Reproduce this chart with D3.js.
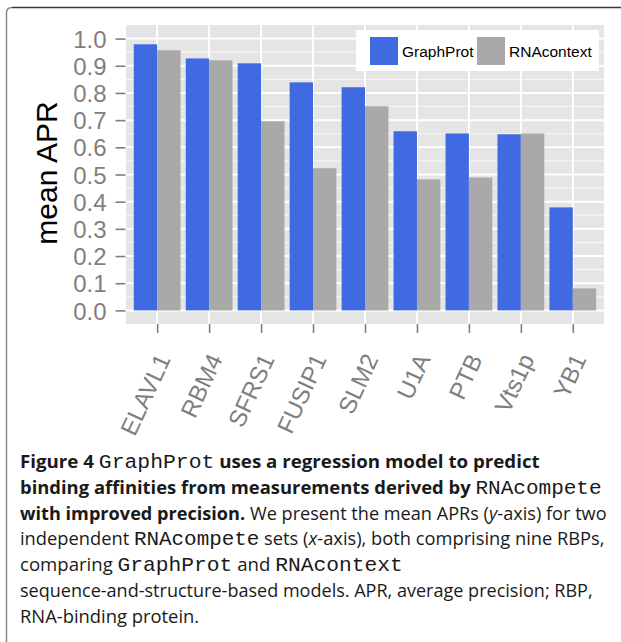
<!DOCTYPE html>
<html>
<head>
<meta charset="utf-8">
<script src="https://d3js.org/d3.v7.min.js"></script>
<style>
  body { margin: 0; background: #fff; }
  .tick-label { font-family: "Liberation Sans", Arial, sans-serif; fill: #7f7f7f; }
  .caption { font-family: "Open Sans", "Noto Sans", sans-serif; font-size: 17.5px; fill: #1a1a1a; }
  .mono { font-family: "Liberation Mono", "DejaVu Sans Mono", monospace; font-size: 20px; font-weight: normal; }
</style>
</head>
<body>
<script>
// data
var proteins = ["ELAVL1", "RBM4", "SFRS1", "FUSIP1", "SLM2", "U1A", "PTB", "Vts1p", "YB1"];
var graphProt = [0.979, 0.927, 0.909, 0.839, 0.821, 0.659, 0.651, 0.648, 0.379];
var rnaContext = [0.957, 0.920, 0.696, 0.523, 0.751, 0.482, 0.489, 0.651, 0.081];
var seriesNames = ["GraphProt", "RNAcontext"];
var seriesColors = ["#4169e1", "#a9a9a9"];
var yTicks = [0, 0.1, 0.2, 0.3, 0.4, 0.5, 0.6, 0.7, 0.8, 0.9, 1.0];
var yMinor = [0.05, 0.15, 0.25, 0.35, 0.45, 0.55, 0.65, 0.75, 0.85, 0.95];

var width = 621, height = 642;
var panel = {left: 126, right: 604, top: 25, bottom: 324};

var svg = d3.select("body").append("svg")
    .attr("width", width)
    .attr("height", height);

// figure frame (rounded top-left corner, runs off right / bottom)
svg.append("path")
    .attr("d", "M6.5,650 L6.5,13 Q6.5,7.5 12,7.5")
    .attr("fill", "none").attr("stroke", "#8a8a8a").attr("stroke-width", 1.5);
svg.append("path")
    .attr("d", "M12,7.5 L630,7.5")
    .attr("fill", "none").attr("stroke", "#3a3a3a").attr("stroke-width", 1.5);

var x = d3.scalePoint()
    .domain(proteins)
    .range([panel.left, panel.right])
    .padding(0.6);
var step = x.step();
var barW = step * 0.45;

var y = d3.scaleLinear()
    .domain([-0.05, 1.05])
    .range([panel.bottom, panel.top]);

// panel background
svg.append("rect")
    .attr("x", panel.left).attr("y", panel.top)
    .attr("width", panel.right - panel.left)
    .attr("height", panel.bottom - panel.top)
    .attr("fill", "#e5e5e5");

// minor + major grid
svg.selectAll("line.minor").data(yMinor).enter().append("line")
    .attr("x1", panel.left).attr("x2", panel.right)
    .attr("y1", function(d) { return y(d); }).attr("y2", function(d) { return y(d); })
    .attr("stroke", "#f8f8f8").attr("stroke-width", 1);
svg.selectAll("line.major").data(yTicks).enter().append("line")
    .attr("x1", panel.left).attr("x2", panel.right)
    .attr("y1", function(d) { return y(d); }).attr("y2", function(d) { return y(d); })
    .attr("stroke", "#fff").attr("stroke-width", 2);
svg.selectAll("line.vmajor").data(proteins).enter().append("line")
    .attr("x1", function(d) { return x(d); }).attr("x2", function(d) { return x(d); })
    .attr("y1", panel.top).attr("y2", panel.bottom)
    .attr("stroke", "#fff").attr("stroke-width", 2);

// bars
var groups = svg.selectAll("g.bar").data(proteins).enter().append("g");
groups.append("rect")
    .attr("x", function(d) { return x(d) - barW; })
    .attr("y", function(d, i) { return y(graphProt[i]); })
    .attr("width", barW)
    .attr("height", function(d, i) { return y(0) - y(graphProt[i]); })
    .attr("fill", seriesColors[0]);
groups.append("rect")
    .attr("x", function(d) { return x(d); })
    .attr("y", function(d, i) { return y(rnaContext[i]); })
    .attr("width", barW)
    .attr("height", function(d, i) { return y(0) - y(rnaContext[i]); })
    .attr("fill", seriesColors[1]);

// y axis
var yAxis = d3.axisLeft(y).tickValues(yTicks).tickFormat(d3.format(".1f")).tickSize(10).tickPadding(9);
var gy = svg.append("g").attr("transform", "translate(" + (panel.left - 0.5) + ",0)").call(yAxis);
gy.select(".domain").remove();
gy.selectAll("line").attr("stroke", "#7f7f7f").attr("stroke-width", 1.6);
gy.selectAll("text").attr("class", "tick-label").attr("font-size", 24).attr("dy", "0.36em");

// x axis
var xAxis = d3.axisBottom(x).tickSize(9).tickFormat("");
var gx = svg.append("g").attr("transform", "translate(0," + panel.bottom + ")").call(xAxis);
gx.select(".domain").remove();
gx.selectAll("line").attr("stroke", "#7f7f7f").attr("stroke-width", 1.6);

svg.selectAll("text.xlab").data(proteins).enter().append("text")
    .attr("class", "tick-label")
    .attr("font-size", 24)
    .attr("text-anchor", "end")
    .attr("transform", function(d) { return "translate(" + (x(d) + 14) + ",359) rotate(-65)"; })
    .text(function(d) { return d; });

// y title
svg.append("text")
    .attr("transform", "translate(57,173) rotate(-90)")
    .attr("text-anchor", "middle")
    .attr("font-family", "Liberation Sans, Arial, sans-serif")
    .attr("font-size", 30)
    .attr("fill", "#000")
    .text("mean APR");

// legend
var leg = svg.append("g");
leg.append("rect")
    .attr("x", 356).attr("y", 30).attr("width", 243).attr("height", 41)
    .attr("fill", "#fff");
var legX = [370, 477];
seriesNames.forEach(function(name, i) {
    leg.append("rect")
        .attr("x", legX[i]).attr("y", 37).attr("width", 28).attr("height", 28)
        .attr("fill", seriesColors[i]);
    leg.append("text")
        .attr("x", legX[i] + 32).attr("y", 56.5)
        .attr("font-family", "Liberation Sans, Arial, sans-serif")
        .attr("font-size", 15.5)
        .attr("fill", "#000")
        .text(name);
});

// caption
var captionLines = [
    [["Figure 4 ", "b"], ["GraphProt", "m"], [" uses a regression model to predict", "b"]],
    [["binding affinities from measurements derived by ", "b"], ["RNAcompete", "m"]],
    [["with improved precision.", "b"], [" We present the mean APRs (", "r"], ["y", "i"], ["-axis) for two", "r"]],
    [["independent ", "r"], ["RNAcompete", "m"], [" sets (", "r"], ["x", "i"], ["-axis), both comprising nine RBPs,", "r"]],
    [["comparing ", "r"], ["GraphProt", "m"], [" and ", "r"], ["RNAcontext", "m"]],
    [["sequence-and-structure-based models. APR, average precision; RBP,", "r"]],
    [["RNA-binding protein.", "r"]]
];
var captionRight = [540, 602, 607, 605, 403, 593, null];
var captionLeft = 20, captionTop = 468, lineGap = 25.8;

var nodes = [];
captionLines.forEach(function(line, i) {
    var t = svg.append("text").attr("class", "caption");
    line.forEach(function(seg) {
        var ts = t.append("tspan").text(seg[0]);
        if (seg[1] === "b") ts.attr("font-weight", "bold");
        if (seg[1] === "m") ts.attr("class", "mono");
        if (seg[1] === "i") ts.attr("font-style", "italic");
    });
    nodes.push(t);
});
// squeeze each line horizontally to mimic the narrow caption face
var scales = nodes.map(function(t, i) {
    return captionRight[i] ? (captionRight[i] - captionLeft) / t.node().getComputedTextLength() : null;
});
var known = scales.filter(function(s) { return s; });
var meanScale = d3.mean(known);
nodes.forEach(function(t, i) {
    var s = scales[i] || meanScale;
    t.attr("transform", "translate(" + captionLeft + "," + (captionTop + i * lineGap) + ") scale(" + s + ",1)");
});
</script>
</body>
</html>
